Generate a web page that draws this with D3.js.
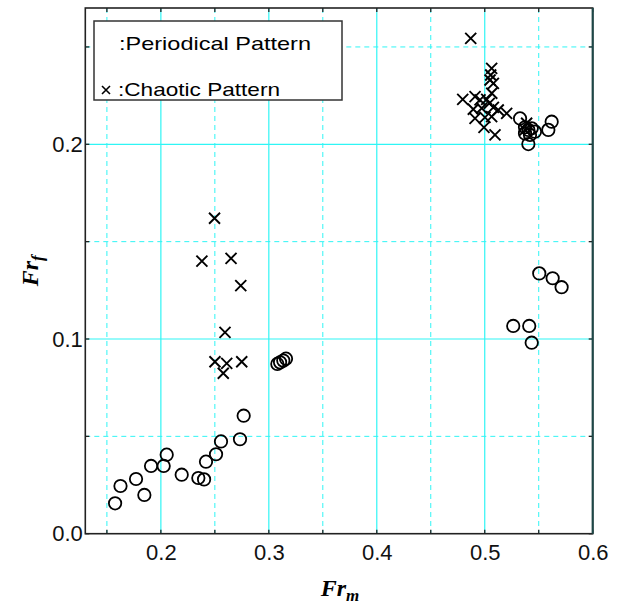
<!DOCTYPE html>
<html>
<head>
<meta charset="utf-8">
<script src="https://cdn.jsdelivr.net/npm/d3@7/dist/d3.min.js"></script>
<style>
  body { margin: 0; background: #fff; }
  svg { display: block; }
</style>
</head>
<body>
<div id="chart"></div>
<script>
// periodical pattern (circles)
const periodicFrm = [0.1576, 0.1626, 0.177, 0.1847, 0.1909, 0.2026, 0.2054, 0.2193, 0.2347, 0.24,
    0.2418, 0.2511, 0.2557, 0.2733, 0.2767,
    0.3079, 0.3104, 0.3134, 0.3159,
    0.5505, 0.5629, 0.5712, 0.5264, 0.5412, 0.5435,
    0.5327, 0.5373, 0.5404, 0.5435, 0.5465, 0.5419, 0.5373, 0.5404, 0.5589, 0.562];
const periodicFrf = [0.0156, 0.0245, 0.0281, 0.0199, 0.0348, 0.0348, 0.0406, 0.0303, 0.0286, 0.0279,
    0.037, 0.0408, 0.0474, 0.0485, 0.0606,
    0.0872, 0.088, 0.0889, 0.0899,
    0.1337, 0.1312, 0.1266, 0.1067, 0.1067, 0.0981,
    0.2133, 0.2087, 0.2074, 0.2082, 0.2065, 0.2048, 0.2056, 0.2001, 0.2074, 0.2116];

// chaotic pattern (crosses)
const chaoticFrm = [0.2497, 0.238, 0.265, 0.274, 0.2594, 0.2501, 0.261, 0.2749, 0.2578,
    0.487, 0.5064, 0.5055, 0.5049, 0.508, 0.5065, 0.4796, 0.491, 0.4956, 0.5018, 0.5042,
    0.4894, 0.4972, 0.508, 0.491, 0.5002, 0.5064, 0.5125, 0.5203, 0.4993, 0.5095, 0.5388, 0.5373];
const chaoticFrf = [0.162, 0.14, 0.1414, 0.1274, 0.1034, 0.0883, 0.0875, 0.0883, 0.0824,
    0.2544, 0.239, 0.2356, 0.233, 0.2313, 0.2262, 0.2231, 0.2245, 0.2228, 0.2231, 0.221,
    0.218, 0.2185, 0.219, 0.2133, 0.2138, 0.2142, 0.2176, 0.2159, 0.2087, 0.2048, 0.2108, 0.2074];

const xMajor = [0.2, 0.3, 0.4, 0.5, 0.6];
const xMinor = [0.15, 0.25, 0.35, 0.45, 0.55];
const yMajor = [0.0, 0.1, 0.2];
const yMinor = [0.05, 0.15, 0.25];
const legendLabels = [":Periodical Pattern", ":Chaotic Pattern"];

const width = 626, height = 605;
const plotL = 85.3, plotR = 592.7, plotT = 8, plotB = 533.7;
const gridColor = "#2ff5f5";

const x = d3.scaleLinear().domain([0.13, 0.6]).range([plotL, plotR]);
const y = d3.scaleLinear().domain([0, 0.27]).range([plotB, plotT]);

const svg = d3.select("#chart").append("svg")
    .attr("width", width)
    .attr("height", height);

// grid: dashed on the half steps, solid on labelled steps
const grid = svg.append("g");
grid.selectAll(".gx").data(xMinor).enter().append("line")
    .attr("x1", d => x(d)).attr("x2", d => x(d))
    .attr("y1", plotT).attr("y2", plotB)
    .attr("stroke", gridColor).attr("stroke-width", 1).attr("stroke-dasharray", "5,4");
grid.selectAll(".gy").data(yMinor).enter().append("line")
    .attr("y1", d => y(d)).attr("y2", d => y(d))
    .attr("x1", plotL).attr("x2", plotR)
    .attr("stroke", gridColor).attr("stroke-width", 1).attr("stroke-dasharray", "5,4");
grid.selectAll(".mx").data(xMajor.filter(d => d < 0.6)).enter().append("line")
    .attr("x1", d => x(d)).attr("x2", d => x(d))
    .attr("y1", plotT).attr("y2", plotB)
    .attr("stroke", gridColor).attr("stroke-width", 1.2);
grid.selectAll(".my").data(yMajor.filter(d => d > 0)).enter().append("line")
    .attr("y1", d => y(d)).attr("y2", d => y(d))
    .attr("x1", plotL).attr("x2", plotR)
    .attr("stroke", gridColor).attr("stroke-width", 1.2);

// inward ticks on all four sides
const tk = svg.append("g").attr("stroke", "#222").attr("stroke-width", 1.3);
const allX = xMajor.concat(xMinor);
const allY = yMajor.concat(yMinor);
allX.forEach(v => {
    tk.append("line").attr("x1", x(v)).attr("x2", x(v)).attr("y1", plotB).attr("y2", plotB - 4);
    tk.append("line").attr("x1", x(v)).attr("x2", x(v)).attr("y1", plotT).attr("y2", plotT + 4);
});
allY.forEach(v => {
    tk.append("line").attr("y1", y(v)).attr("y2", y(v)).attr("x1", plotL).attr("x2", plotL + 4);
    tk.append("line").attr("y1", y(v)).attr("y2", y(v)).attr("x1", plotR).attr("x2", plotR - 4);
});

// axes (labels only)
const xAxis = svg.append("g")
    .attr("transform", `translate(0,${plotB})`)
    .call(d3.axisBottom(x).tickValues(xMajor).tickSize(0).tickPadding(11).tickFormat(d3.format(".1f")));
const yAxis = svg.append("g")
    .attr("transform", `translate(${plotL},0)`)
    .call(d3.axisLeft(y).tickValues(yMajor).tickSize(0).tickPadding(2.5).tickFormat(d3.format(".1f")));
[xAxis, yAxis].forEach(a => {
    a.select(".domain").remove();
    a.selectAll("text")
        .attr("font-family", "Liberation Sans, Arial, sans-serif")
        .attr("font-size", 22)
        .attr("fill", "#111");
});

// frame
svg.append("rect")
    .attr("x", plotL).attr("y", plotT)
    .attr("width", plotR - plotL).attr("height", plotB - plotT)
    .attr("fill", "none").attr("stroke", "#222").attr("stroke-width", 1.6);
svg.append("line")
    .attr("x1", plotR).attr("x2", plotR).attr("y1", plotT).attr("y2", plotB)
    .attr("stroke", "#1d4848").attr("stroke-width", 2);

// legend box
svg.append("rect")
    .attr("x", 94).attr("y", 21).attr("width", 248).attr("height", 79)
    .attr("fill", "#fff").attr("stroke", "#333").attr("stroke-width", 1.5);
const legendFont = "Liberation Sans, Arial, sans-serif";
svg.append("text")
    .attr("x", 119).attr("y", 50)
    .attr("font-family", legendFont).attr("font-size", 19)
    .attr("textLength", 192).attr("lengthAdjust", "spacingAndGlyphs")
    .text(legendLabels[0]);
svg.append("text")
    .attr("x", 118).attr("y", 96)
    .attr("font-family", legendFont).attr("font-size", 19)
    .attr("textLength", 162).attr("lengthAdjust", "spacingAndGlyphs")
    .text(legendLabels[1]);
svg.append("path")
    .attr("d", "M102,86L110,94M110,86L102,94")
    .attr("stroke", "#000").attr("stroke-width", 1.6);

// data
const periodic = periodicFrm.map((v, i) => [v, periodicFrf[i]]);
const chaotic = chaoticFrm.map((v, i) => [v, chaoticFrf[i]]);

svg.append("g").selectAll("circle").data(periodic).enter().append("circle")
    .attr("cx", d => x(d[0])).attr("cy", d => y(d[1]))
    .attr("r", 6.2)
    .attr("fill", "none").attr("stroke", "#000").attr("stroke-width", 1.8);

const s = 5.5;
svg.append("g").selectAll("path").data(chaotic).enter().append("path")
    .attr("d", d => {
        const cx = x(d[0]), cy = y(d[1]);
        return `M${cx - s},${cy - s}L${cx + s},${cy + s}M${cx + s},${cy - s}L${cx - s},${cy + s}`;
    })
    .attr("stroke", "#000").attr("stroke-width", 1.9);

// axis titles
const xt = svg.append("text")
    .attr("x", 340).attr("y", 596)
    .attr("text-anchor", "middle")
    .attr("font-family", "Liberation Serif, Times New Roman, serif")
    .attr("font-weight", "bold").attr("font-style", "italic")
    .attr("font-size", 24);
xt.append("tspan").text("Fr");
xt.append("tspan").attr("font-size", 17).attr("dy", 5).text("m");

const yt = svg.append("text")
    .attr("transform", `translate(38,${(plotT + plotB) / 2}) rotate(-90)`)
    .attr("text-anchor", "middle")
    .attr("font-family", "Liberation Serif, Times New Roman, serif")
    .attr("font-weight", "bold").attr("font-style", "italic")
    .attr("font-size", 24);
yt.append("tspan").text("Fr");
yt.append("tspan").attr("font-size", 17).attr("dy", 5).text("f");
</script>
</body>
</html>
